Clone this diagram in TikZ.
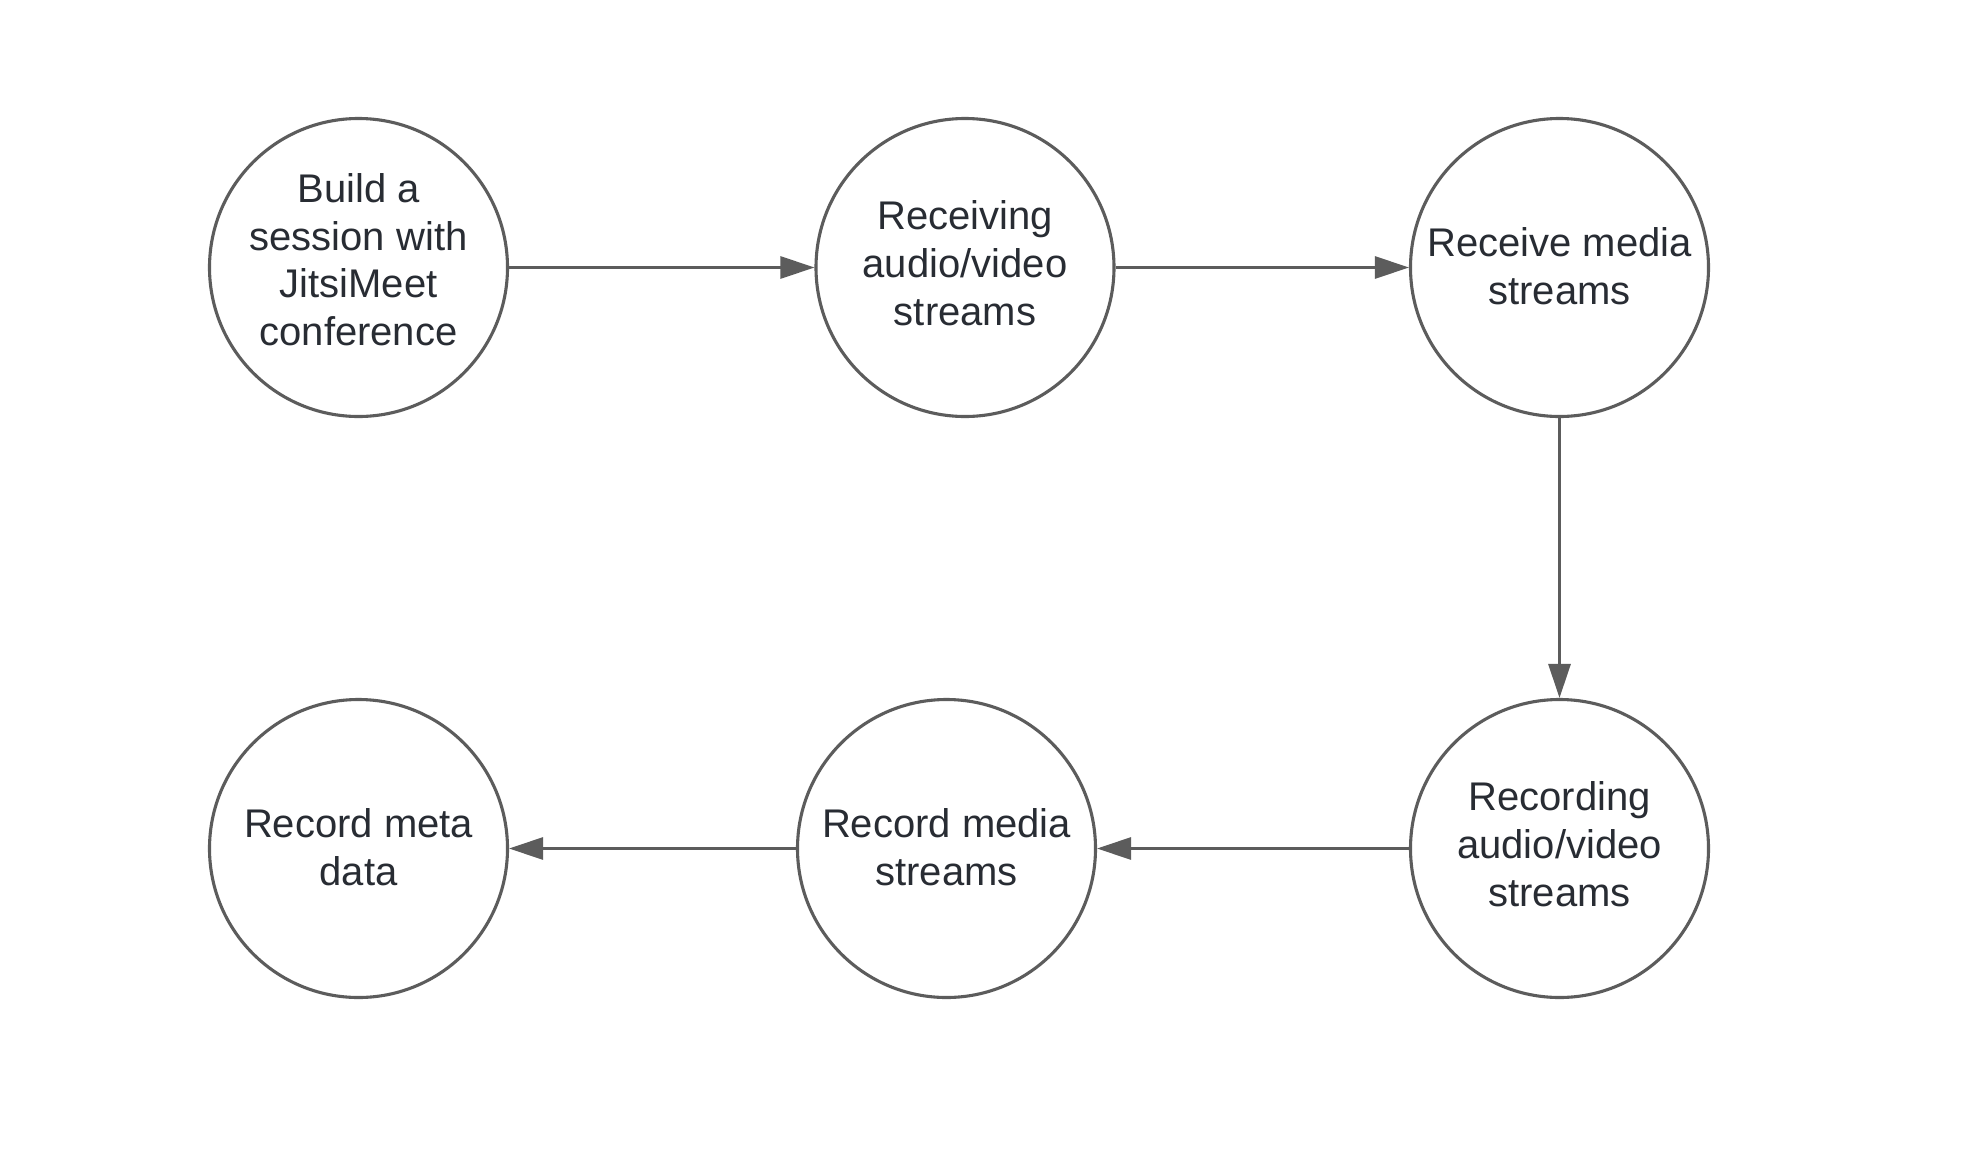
\documentclass[tikz,border=0pt]{standalone}
\usepackage{fontspec}
\setmainfont{Liberation Sans}
\usetikzlibrary{arrows.meta}
\definecolor{linegray}{HTML}{5C5C5C}
\definecolor{textdark}{HTML}{282C33}
% top strut: height #1, depth 7pt ; bottom strut: height 16pt, depth #1
\newcommand\topstrut[1]{\rule[-7pt]{0pt}{\dimexpr #1+7pt\relax}}
\newcommand\botstrut[1]{\rule[-#1]{0pt}{\dimexpr 16pt+#1\relax}}
\tikzset{
  stepcircle/.style={circle, draw=linegray, line width=1.55pt, minimum size=149pt,
    inner sep=0pt, align=center, text=textdark,
    font=\fontsize{20pt}{23.9pt}\selectfont},
  flowarrow/.style={draw=linegray, line width=1.5pt,
    -{Triangle[length=17pt,width=11pt]}}
}
\begin{document}
\begin{tikzpicture}[x=0.5pt,y=-0.5pt]
\fill[white] (0,0) rectangle (1982,1163);
\useasboundingbox (0,0) rectangle (1982,1163);
\node[stepcircle] (c1) at (358.5,267.5) {\topstrut{16pt}Build a\\session with\\JitsiMeet\\conference\botstrut{9.5pt}};
\node[stepcircle] (c2) at (965,267.5) {\topstrut{17pt}Receiving\\audio/video\\streams\botstrut{7pt}};
\node[stepcircle] (c3) at (1559.5,267.5) {\topstrut{20pt}Receive media\\streams\botstrut{7pt}};
\node[stepcircle] (c4) at (1559.5,848.5) {\topstrut{17pt}Recording\\audio/video\\streams\botstrut{7pt}};
\node[stepcircle] (c5) at (946.5,848.5) {\topstrut{20pt}Record media\\streams\botstrut{7pt}};
\node[stepcircle] (c6) at (358.5,848.5) {\topstrut{20pt}Record meta\\data\botstrut{7pt}};
\draw[flowarrow] (c1.east) -- (c2.west);
\draw[flowarrow] (c2.east) -- (c3.west);
\draw[flowarrow] (c3.south) -- (c4.north);
\draw[flowarrow] (c4.west) -- (c5.east);
\draw[flowarrow] (c5.west) -- (c6.east);
\end{tikzpicture}
\end{document}
